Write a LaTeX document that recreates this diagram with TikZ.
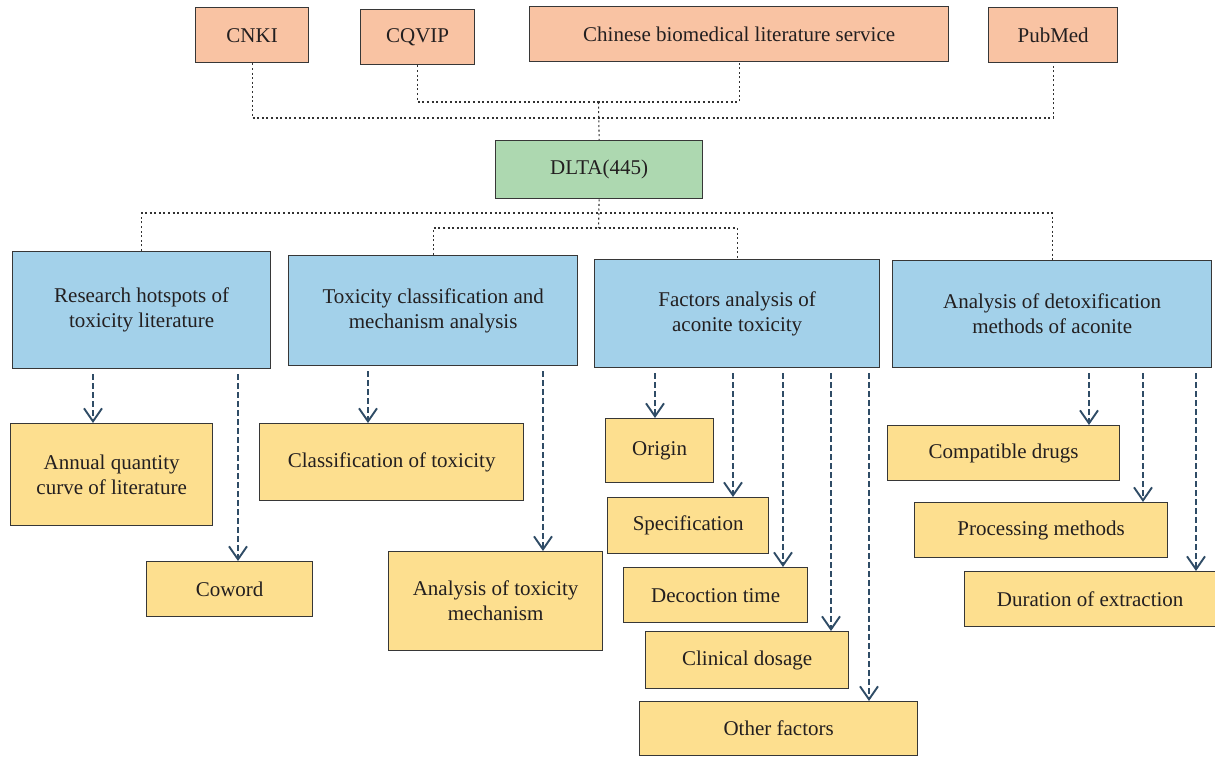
\documentclass[tikz,border=0pt]{standalone}
\usepackage{fontspec}
\setmainfont{Liberation Serif}
\usetikzlibrary{arrows.meta}
\definecolor{salmonc}{RGB}{249,195,163}
\definecolor{greenc}{RGB}{173,216,176}
\definecolor{bluec}{RGB}{163,209,234}
\definecolor{yellowc}{RGB}{253,223,143}
\definecolor{bordc}{RGB}{55,55,55}
\definecolor{txtc}{RGB}{35,31,32}
\definecolor{arrc}{RGB}{47,76,102}
\definecolor{dotc}{RGB}{50,50,50}
\tikzset{
  bx/.style={draw=bordc, line width=1.3pt, text=txtc, align=center, inner sep=0pt, anchor=north west},
  src/.style={bx, fill=salmonc},
  mid/.style={bx, fill=greenc},
  cat/.style={bx, fill=bluec},
  leaf/.style={bx, fill=yellowc},
  dotl/.style={draw=dotc, line width=1.1pt, dash pattern=on 2pt off 2.6pt},
  arr/.style={draw=arrc, line width=1.9pt, dash pattern=on 6pt off 3pt, shorten <=5pt,
    -{Straight Barb[length=13pt,width=18pt,line width=1.9pt]}}
}
\begin{document}
\begin{tikzpicture}[x=1pt,y=-1pt,font=\fontsize{21}{25}\selectfont]
\useasboundingbox (0,0) rectangle (1215,756);
% sources
\node[src,minimum width=113pt,minimum height=55pt] (cnki) at (195,7) {CNKI};
\node[src,minimum width=114pt,minimum height=55pt] (cqvip) at (360,9) {CQVIP};
\node[src,minimum width=419pt,minimum height=55pt] (cbls) at (529,6) {Chinese biomedical literature service};
\node[src,minimum width=129pt,minimum height=55pt] (pubmed) at (988,7) {PubMed};
% center
\node[mid,minimum width=207pt,minimum height=58pt] (dlta) at (495,140) {DLTA(445)};
% categories
\node[cat,minimum width=258pt,minimum height=117pt] (rh) at (12,251) {Research hotspots of\\toxicity literature};
\node[cat,minimum width=289pt,minimum height=110pt] (tc) at (288,255) {Toxicity classification and\\mechanism analysis};
\node[cat,minimum width=285pt,minimum height=108pt] (fa) at (594,259) {Factors analysis of\\aconite toxicity};
\node[cat,minimum width=319pt,minimum height=107pt] (ad) at (892,260) {Analysis of detoxification\\methods of aconite};
% leaves
\node[leaf,minimum width=202pt,minimum height=102pt] (aq) at (10,423) {Annual quantity\\curve of literature};
\node[leaf,minimum width=166pt,minimum height=55pt] (cw) at (146,561) {Coword};
\node[leaf,minimum width=264pt,minimum height=77pt] (ct) at (259,423) {Classification of toxicity};
\node[leaf,minimum width=214pt,minimum height=99pt] (atm) at (388,551) {Analysis of toxicity\\mechanism};
\node[leaf,minimum width=108pt,minimum height=64pt] (ori) at (605,418) {Origin};
\node[leaf,minimum width=161pt,minimum height=56pt] (spec) at (607,497) {Specification};
\node[leaf,minimum width=184pt,minimum height=55pt] (dec) at (623,567) {Decoction time};
\node[leaf,minimum width=203pt,minimum height=57pt] (cli) at (645,631) {Clinical dosage};
\node[leaf,minimum width=278pt,minimum height=54pt] (oth) at (639,701) {Other factors};
\node[leaf,minimum width=232pt,minimum height=55pt] (cd) at (887,425) {Compatible drugs};
\node[leaf,minimum width=253pt,minimum height=55pt] (pm) at (914,502) {Processing methods};
\node[leaf,minimum width=251pt,minimum height=55pt] (de) at (964,571) {Duration of extraction};
% dotted connectors
\coordinate (j1) at (598.5,118);
\coordinate (j2) at (598.5,102);
\coordinate (k1) at (598.5,213);
\coordinate (k2) at (598.5,228);
\draw[dotl] (cnki.south) |- (j1) -| (pubmed.south);
\draw[dotl] (cqvip.south) |- (j2) -| (cbls.south);
\draw[dotl] (j2) -- (dlta.north);
\draw[dotl] (dlta.south) -- (k2);
\draw[dotl] (rh.north) |- (k1) -| (ad.north);
\draw[dotl] (tc.north) |- (k2) -| (fa.north);
% arrow x positions
\coordinate (xa) at (93,0);
\coordinate (xb) at (238,0);
\coordinate (xc) at (368,0);
\coordinate (xd) at (543,0);
\coordinate (xe) at (655,0);
\coordinate (xf) at (733,0);
\coordinate (xg) at (783,0);
\coordinate (xh) at (831,0);
\coordinate (xi) at (869,0);
\coordinate (xj) at (1089,0);
\coordinate (xk) at (1143,0);
\coordinate (xl) at (1196,0);
\draw[arr] (rh.south -| xa) -- (aq.north -| xa);
\draw[arr] (rh.south -| xb) -- (cw.north -| xb);
\draw[arr] (tc.south -| xc) -- (ct.north -| xc);
\draw[arr] (tc.south -| xd) -- (atm.north -| xd);
\draw[arr] (fa.south -| xe) -- (ori.north -| xe);
\draw[arr] (fa.south -| xf) -- (spec.north -| xf);
\draw[arr] (fa.south -| xg) -- (dec.north -| xg);
\draw[arr] (fa.south -| xh) -- (cli.north -| xh);
\draw[arr] (fa.south -| xi) -- (oth.north -| xi);
\draw[arr] (ad.south -| xj) -- (cd.north -| xj);
\draw[arr] (ad.south -| xk) -- (pm.north -| xk);
\draw[arr] (ad.south -| xl) -- (de.north -| xl);
\end{tikzpicture}
\end{document}
